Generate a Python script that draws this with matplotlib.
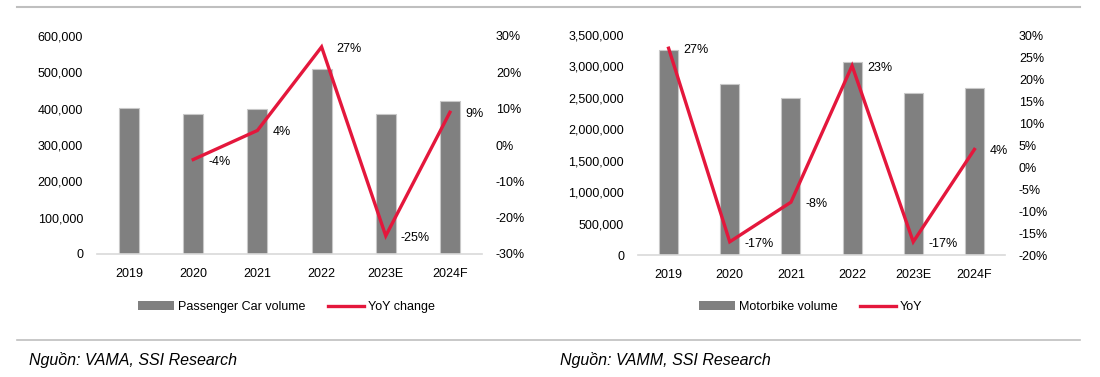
import matplotlib
matplotlib.use('Agg')
import matplotlib.pyplot as plt
from matplotlib.patches import Patch
from matplotlib.lines import Line2D
from matplotlib.ticker import FuncFormatter, MultipleLocator

plt.rcParams['font.family'] = ['Liberation Sans Narrow', 'Liberation Sans', 'DejaVu Sans']
plt.rcParams['font.size'] = 9

# data
years = ['2019', '2020', '2021', '2022', '2023E', '2024F']

car_volume = [401000, 385000, 400000, 508000, 385000, 421000]
car_yoy = [None, -4, 4, 27, -25, 9]

bike_volume = [3261000, 2716000, 2493000, 3066000, 2573000, 2657000]
bike_yoy = [27, -17, -8, 23, -17, 4]

BAR = '#808080'
RED = '#e4173c'
GRID = '#bfbfbf'
FS = 9

W, H = 1100, 377
fig = plt.figure(figsize=(W / 100, H / 100), dpi=100)


def px_box(x0, y0, x1, y1):
    return [x0 / W, 1 - y1 / H, (x1 - x0) / W, (y1 - y0) / H]


def draw_panel(box, volume, yoy, vmax, vstep, pmin, pmax, pstep, bar_label, line_label, legend_x):
    ax = fig.add_axes(box)
    x = list(range(len(years)))
    ax.bar(x, volume, width=0.31, color=BAR, edgecolor='#c8c8c8', linewidth=0.8, zorder=2)
    ax.set_xlim(-0.5, len(years) - 0.5)
    ax.set_ylim(0, vmax)
    ax.yaxis.set_major_locator(MultipleLocator(vstep))
    ax.yaxis.set_major_formatter(FuncFormatter(lambda v, p: f'{v:,.0f}'))
    ax.set_xticks(x)
    ax.set_xticklabels(years)
    for s in ['top', 'right', 'left']:
        ax.spines[s].set_visible(False)
    ax.spines['bottom'].set_color('#d9d9d9')
    ax.spines['bottom'].set_linewidth(1.2)
    ax.tick_params(axis='both', length=0, pad=10, labelsize=FS)

    ax2 = ax.twinx()
    pts = [(i, v) for i, v in enumerate(yoy) if v is not None]
    ax2.plot([p[0] for p in pts], [p[1] for p in pts], color=RED, linewidth=2.4,
             solid_joinstyle='miter', zorder=3)
    for i, v in pts:
        ax2.annotate(f'{v}%', (i, v), xytext=(15, -2), textcoords='offset pixels',
                     ha='left', va='center', fontsize=FS)
    ax2.set_ylim(pmin, pmax)
    ax2.yaxis.set_major_locator(MultipleLocator(pstep))
    ax2.yaxis.set_major_formatter(FuncFormatter(lambda v, p: f'{v:.0f}%'))
    for s in ax2.spines.values():
        s.set_visible(False)
    ax2.tick_params(axis='y', length=0, pad=10, labelsize=FS)

    handles = [Patch(facecolor=BAR, edgecolor='none', label=bar_label),
               Line2D([0], [0], color=RED, linewidth=2.4, label=line_label)]
    fig.legend(handles=handles, loc='center left', bbox_to_anchor=(legend_x / W, 1 - 307 / H),
               ncol=2, frameon=False, borderpad=0, borderaxespad=0, handlelength=2.9,
               handletextpad=0.3, columnspacing=1.8, fontsize=FS)
    return ax


draw_panel(px_box(97, 36, 482, 254), car_volume, car_yoy, 600000, 100000, -30, 30, 10,
           'Passenger Car volume', 'YoY change', 138)
draw_panel(px_box(638, 35, 1005, 255), bike_volume, bike_yoy, 3500000, 500000, -20, 30, 5,
           'Motorbike volume', 'YoY', 699)

# frame lines and sources
fig.add_artist(Line2D([17 / W, 1080 / W], [1 - 7 / H, 1 - 7 / H], color=GRID, linewidth=1.5))
fig.add_artist(Line2D([17 / W, 1080 / W], [1 - 340 / H, 1 - 340 / H], color=GRID, linewidth=1.2))
fig.text(29 / W, 1 - 360 / H, 'Nguồn: VAMA, SSI Research', style='italic', fontsize=11.5,
         va='center', ha='left')
fig.text(560 / W, 1 - 360 / H, 'Nguồn: VAMM, SSI Research', style='italic', fontsize=11.5,
         va='center', ha='left')

fig.savefig('out.png', dpi=100)
